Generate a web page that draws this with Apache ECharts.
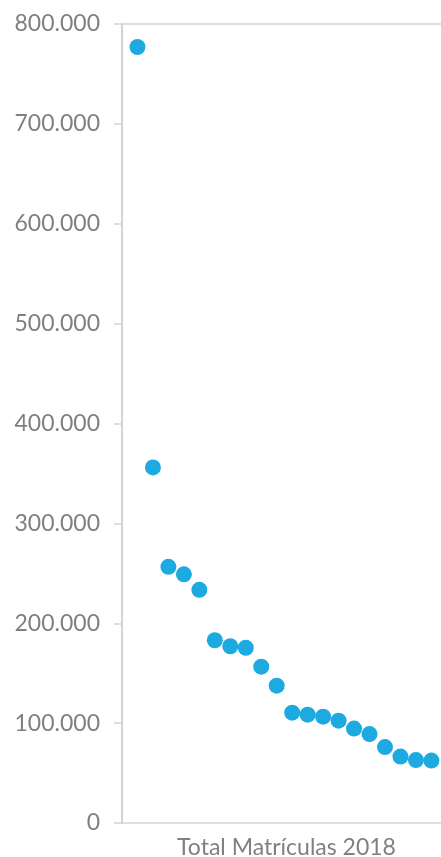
<!DOCTYPE html>
<html><head><meta charset="utf-8">
<script src="https://cdn.jsdelivr.net/npm/echarts@6/dist/echarts.min.js"></script>
<style>html,body{margin:0;padding:0;background:#fff}#c{width:441px;height:857px}</style>
</head><body><div id="c"></div>
<script>
var positions = [1,2,3,4,5,6,7,8,9,10,11,12,13,14,15,16,17,18,19,20];
var matriculas = [777000,356000,256500,249000,233500,183000,177000,175500,156500,137500,110500,108500,106500,102500,94500,89000,76000,66500,63000,62500];
var yTicks = [0,100000,200000,300000,400000,500000,600000,700000,800000];
var axisName = 'Total Matrículas 2018';

var data = positions.map(function(p,i){return [p, matriculas[i]];});
function fmt(v){ if(v===0) return '0'; return String(Math.round(v)).replace(/\B(?=(\d{3})+(?!\d))/g,'.'); }
var chart = echarts.init(document.getElementById('c'), null, {renderer:'canvas'});
chart.setOption({
  animation:false,
  grid:{left:122, right:0, top:24, bottom:34, containLabel:false, outerBoundsMode:'none'},
  xAxis:[{
    type:'value', min:0, max:20.62, position:'bottom',
    name:axisName, nameLocation:'middle', nameGap:13,
    nameTextStyle:{color:'#808080', fontFamily:'Lato', fontSize:23, padding:[0,0,0,10]},
    axisLine:{show:true, lineStyle:{color:'#d3d3d3', width:1.5}},
    axisTick:{show:false}, axisLabel:{show:false}, splitLine:{show:false}
  },{
    type:'value', min:0, max:20.62, position:'top',
    axisLine:{show:true, lineStyle:{color:'#d3d3d3', width:1.5}},
    axisTick:{show:false}, axisLabel:{show:false}, splitLine:{show:false}
  }],
  yAxis:{
    type:'value', min:yTicks[0], max:yTicks[yTicks.length-1], interval:yTicks[1]-yTicks[0],
    axisLine:{show:true, lineStyle:{color:'#d3d3d3', width:2}},
    axisTick:{show:true, length:8, lineStyle:{color:'#d3d3d3', width:1.5}},
    axisLabel:{color:'#7f7f7f', fontFamily:'Lato', fontSize:23, margin:22, formatter:fmt},
    splitLine:{show:false}
  },
  series:[{
    type:'scatter', xAxisIndex:0, data:data, symbolSize:16,
    itemStyle:{color:'#1CAAE1', opacity:1}
  }]
});
</script></body></html>
